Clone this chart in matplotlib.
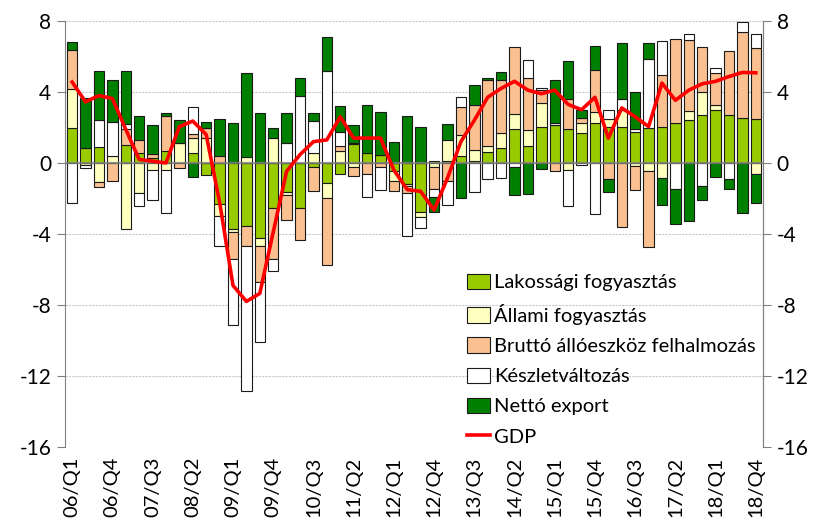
import numpy as np
import matplotlib
matplotlib.use("Agg")
import matplotlib.pyplot as plt

plt.rcParams['font.family'] = ['Lato', 'DejaVu Sans']

quarters = [f"{y:02d}/Q{q}" for y in range(6, 19) for q in range(1, 5)]

lakossagi = [1.95, 0.87, 0.9, 0.0, 1.0, 0.55, 0.28, 0.65, 0.0, 0.55, -0.65, -2.33,
             -3.72, -3.57, -4.24, -2.55, -1.64, -2.55, -0.22, -1.15, -0.6, 1.08, 0.56, 0.43,
             -0.45, -1.2, -2.75, 0.1, 0.1, 0.37, 0.1, 0.6, 0.84, 1.9, 0.97, 2.0,
             2.14, 1.9, 1.67, 2.23, 2.05, 2.0, 1.77, 1.95, 2.05, 2.27, 2.42, 2.73,
             2.98, 2.73, 2.51, 2.46]
allami = [2.2, -0.1, -1.1, 0.4, -3.7, -1.67, -0.37, -0.4, 1.15, 0.87, 1.4, -0.65,
          -0.15, 0.33, -0.45, 1.43, -0.19, 0.0, 0.56, -0.8, 0.65, -0.2, 0.0, 0.0,
          -0.55, -0.1, -0.3, -0.2, 1.2, 1.2, 0.65, 0.33, 0.87, 0.84, 0.86, 1.4,
          0.0, -0.37, 0.56, 0.65, 0.45, 0.97, -0.15, -0.47, -0.84, 0.0, 0.52, 1.27,
          0.3, 0.0, 0.0, -0.6]
brutto = [2.23, 0.0, -0.25, -1.0, 0.9, 0.75, 0.22, 2.0, -0.3, 0.2, 0.56, 0.37,
          -1.56, -1.08, -2.0, -2.85, -1.4, -1.77, -1.36, -3.81, 0.32, -0.56, -0.6, -0.2,
          -0.6, -0.4, 0.0, -1.25, -1.02, 1.58, 2.5, 3.72, 2.94, 3.78, 2.96, 0.69,
          -0.47, 1.73, 0.28, 2.33, -0.93, -3.63, -1.4, -4.28, 2.88, 4.7, 3.98, 2.51,
          1.77, 3.59, 4.87, 4.03]
keszlet = [-2.23, -0.18, 1.5, 1.88, 0.3, -0.78, -1.7, -2.4, 0.0, 1.53, 0.0, -1.71,
           -3.68, -8.19, -3.39, -0.69, 1.12, 3.76, 1.8, 5.17, 0.8, 0.05, -1.3, -1.3,
           0.0, -2.4, -0.6, -0.45, -1.34, 0.56, -1.62, -0.9, -0.84, -0.22, 0.99, 0.15,
           0.1, -2.08, -0.13, -2.88, 0.5, 0.65, 0.15, 3.9, 1.92, -1.45, 0.37, -1.27,
           0.3, -0.9, 0.56, 0.8]
netto_export = [0.45, 2.78, 2.78, 2.38, 3.0, 1.34, 1.64, 0.15, 1.27, -0.8, 0.35, 2.08,
                2.23, 4.72, 2.79, 0.52, 1.67, 1.02, 0.43, 1.93, 1.43, 1.0, 2.73, 2.46,
                1.2, 2.64, 2.05, -0.85, 0.87, -2.0, 1.12, 0.15, 0.5, -1.6, -1.73, -0.33,
                2.46, 2.14, 0.5, 1.4, -0.69, 3.13, 2.05, 0.9, -1.54, -2.0, -3.26, -0.82,
                -0.78, -0.56, -2.83, -1.64]
gdp = [4.56, 3.44, 3.8, 3.63, 1.9, 0.2, 0.1, 0.0, 2.05, 2.36, 1.6, -2.2,
       -6.9, -7.8, -7.35, -3.9, -0.47, 0.47, 1.2, 1.3, 2.6, 1.4, 1.4, 1.4,
       -0.4, -1.5, -1.6, -2.65, -0.85, 1.2, 2.4, 3.7, 4.2, 4.6, 4.1, 3.9,
       4.1, 3.3, 3.0, 3.7, 1.4, 3.1, 2.6, 2.05, 4.5, 3.53, 4.1, 4.46,
       4.6, 4.87, 5.1, 5.08]

series = [
    (lakossagi, "#99CC00", "Lakossági fogyasztás"),
    (allami, "#FFFFC0", "Állami fogyasztás"),
    (brutto, "#FAC090", "Bruttó állóeszköz felhalmozás"),
    (keszlet, "#FFFFFF", "Készletváltozás"),
    (netto_export, "#008000", "Nettó export"),
]

fig = plt.figure(figsize=(8.23, 5.24), dpi=100)
ax = fig.add_axes([0.079, 0.147, 0.848, 0.813])

x = np.arange(len(quarters))
pos = np.zeros(len(x))
neg = np.zeros(len(x))
handles = []
for vals, color, label in series:
    v = np.array(vals)
    bottom = np.where(v >= 0, pos, neg)
    b = ax.bar(x, v, bottom=bottom, width=0.78, color=color, edgecolor="#1a1a1a",
               linewidth=0.8, label=label, zorder=3)
    handles.append(b)
    pos += np.clip(v, 0, None)
    neg += np.clip(v, None, 0)

ax.axhline(0, color="#808080", lw=1.6, alpha=0.8, zorder=4)
line, = ax.plot(x, gdp, color="#FF0000", lw=2.6, label="GDP", zorder=5)
handles.append(line)

ax.set_xlim(-0.53, 51.53)
ax.set_ylim(-16, 8)
yt = np.arange(-16, 9, 4)
ax.set_yticks(yt)
ax.set_yticklabels([str(v) for v in yt])
ax.grid(axis="y", color="#c8c8c8", linestyle=(0, (2, 1)), lw=0.8, zorder=0)
ax.set_axisbelow(True)

ax.set_xticks(x[::3])
ax.set_xticklabels(quarters[::3], rotation=90, fontsize=14.5)
ax.tick_params(axis="x", length=0, pad=7)
ax.tick_params(axis="y", labelsize=15, length=6, color="#808080", pad=4)

for s in ["top", "bottom"]:
    ax.spines[s].set_visible(False)
for s in ["left", "right"]:
    ax.spines[s].set_color("#808080")

ax2 = ax.twinx()
ax2.set_ylim(-16, 8)
ax2.set_yticks(yt)
ax2.set_yticklabels([str(v) for v in yt])
ax2.tick_params(axis="y", labelsize=15, length=6, color="#808080", pad=4)
for s in ["top", "bottom", "left"]:
    ax2.spines[s].set_visible(False)
ax2.spines["right"].set_color("#808080")

ax.legend(handles=handles, loc="upper left", bbox_to_anchor=(0.555, 0.497),
          bbox_transform=fig.transFigure, frameon=False, fontsize=14.5,
          handlelength=1.15, handleheight=0.8, handletextpad=0.2, labelspacing=0.62,
          borderpad=0)

fig.savefig("out.png", dpi=100)
